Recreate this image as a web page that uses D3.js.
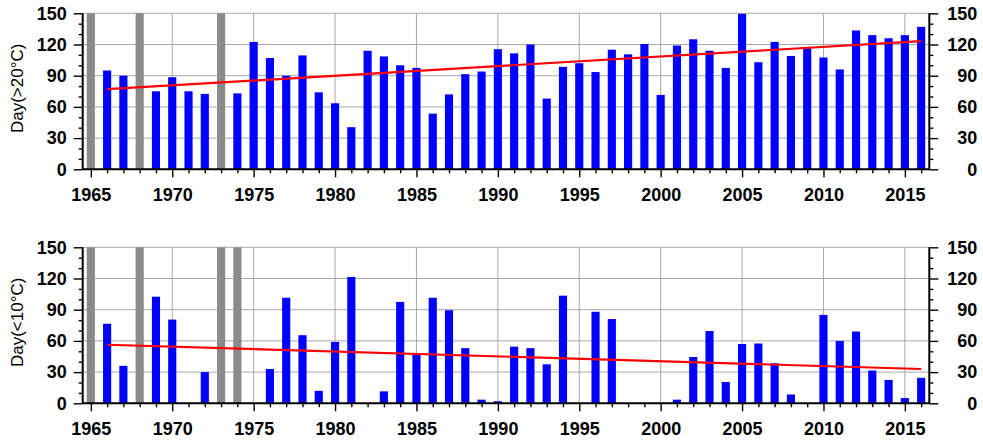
<!DOCTYPE html>
<html>
<head>
<meta charset="utf-8">
<script src="https://cdn.jsdelivr.net/npm/d3@7/dist/d3.min.js"></script>
<style>
  html, body { margin: 0; padding: 0; background: #fff; }
  svg { display: block; }
  text { font-family: "Liberation Sans", Arial, Helvetica, sans-serif; }
</style>
</head>
<body>
<svg id="chart" width="983" height="443"></svg>
<script>
// Years shown on both panels
const years = d3.range(1965, 2017);

// Years with missing records (drawn as full-height grey bars)
const missingHot = [1965, 1968, 1973];
const missingCold = [1965, 1968, 1973, 1974];

// Number of days with daily temperature above 20°C, 1965–2016 (null = missing)
const hotDays = [
  null, 95, 90, null, 75, 88.5, 75, 72.5, null, 73,
  122.5, 107, 90, 109.5, 74, 63.5, 40.5, 114, 108.5, 100,
  97.5, 53.5, 72, 91.5, 94, 115.5, 111.5, 120, 68, 98.5,
  102, 93.5, 115, 110.5, 120.5, 71.5, 119, 125, 114, 97.5,
  149.5, 103, 122.5, 109, 117, 107.5, 96, 133.5, 129, 126,
  129, 137
];

// Number of days with daily temperature below 10°C, 1965–2016 (null = missing)
const coldDays = [
  null, 76.5, 36, null, 102.5, 80.5, 0, 30, null, null,
  0, 33, 101.5, 65.5, 12, 59, 121.5, 0, 11.5, 97.5,
  47, 101.5, 89.5, 53, 3.5, 2, 54.5, 53, 37.5, 103.5,
  0, 88, 81, 0, 0, 0, 3.5, 44.5, 69.5, 20.5,
  57, 57.5, 38.5, 8.5, 0, 85, 60, 69, 31.5, 22.5,
  5, 24.5
];

// Linear trend end points [year, days]
const hotTrend = [[1966, 77], [2016, 123.3]];
const coldTrend = [[1966, 56.3], [2016, 33]];

// Axis ticks
const yTicks = [0, 30, 60, 90, 120, 150];
const yMinorTicks = d3.range(0, 151, 10);
const xTicks = [1965, 1970, 1975, 1980, 1985, 1990, 1995, 2000, 2005, 2010, 2015];

const svg = d3.select("#chart");

const x = d3.scaleLinear().domain([1964.5, 2016.5]).range([82.7, 929.3]);
const barW = (x(1) - x(0)) * 0.5;
const TICK_FONT = 18;

function drawPanel(top, bottom, values, missing, trend, title) {
  const y = d3.scaleLinear().domain([0, 150]).range([bottom, top]);
  const g = svg.append("g");

  // grid
  g.append("g").selectAll("line").data(yTicks.filter(d => d > 0)).join("line")
    .attr("x1", x.range()[0]).attr("x2", x.range()[1])
    .attr("y1", d => y(d)).attr("y2", d => y(d))
    .attr("stroke", "#a8a8a8").attr("stroke-width", 1);
  g.append("g").selectAll("line").data(xTicks).join("line")
    .attr("x1", d => x(d)).attr("x2", d => x(d))
    .attr("y1", y(0)).attr("y2", y(150))
    .attr("stroke", "#a8a8a8").attr("stroke-width", 1);

  // missing years
  g.append("g").selectAll("rect").data(missing).join("rect")
    .attr("x", d => x(d) - barW / 2).attr("width", barW)
    .attr("y", y(150)).attr("height", y(0) - y(150))
    .attr("fill", "#8a8a8a");

  // observed bars
  const obs = years.map((yr, i) => ({ yr, v: values[i] })).filter(d => d.v !== null && d.v > 0);
  g.append("g").selectAll("rect").data(obs).join("rect")
    .attr("x", d => x(d.yr) - barW / 2).attr("width", barW)
    .attr("y", d => y(d.v)).attr("height", d => y(0) - y(d.v))
    .attr("fill", "#0000ff");

  // trend line
  g.append("path").datum(trend)
    .attr("d", d3.line().x(d => x(d[0])).y(d => y(d[1])))
    .attr("fill", "none").attr("stroke", "#ff0000").attr("stroke-width", 2.2);

  // x axis: minor ticks every year, labelled every 5 years
  const xMinor = d3.axisBottom(x).tickValues(years.filter(d => d % 5 !== 0)).tickSize(4).tickFormat("");
  const xMajor = d3.axisBottom(x).tickValues(xTicks).tickSize(8).tickPadding(11).tickFormat(d3.format("d"));
  g.append("g").attr("transform", `translate(0,${bottom})`).call(xMinor);
  g.append("g").attr("transform", `translate(0,${bottom})`).call(xMajor);

  // y axes (left and right)
  const minor = yMinorTicks.filter(d => d % 30 !== 0);
  const yl = d3.axisLeft(y).tickValues(yTicks).tickSize(9).tickPadding(7).tickFormat(d3.format("d"));
  const ylm = d3.axisLeft(y).tickValues(minor).tickSize(4).tickFormat("");
  const yr = d3.axisRight(y).tickValues(yTicks).tickSize(9).tickPadding(39).tickFormat(d3.format("d"));
  const yrm = d3.axisRight(y).tickValues(minor).tickSize(4).tickFormat("");
  g.append("g").attr("transform", `translate(${x.range()[0]},0)`).call(yl);
  g.append("g").attr("transform", `translate(${x.range()[0]},0)`).call(ylm);
  const gyr = g.append("g").attr("transform", `translate(${x.range()[1]},0)`).call(yr);
  g.append("g").attr("transform", `translate(${x.range()[1]},0)`).call(yrm);
  gyr.selectAll(".tick text").attr("text-anchor", "end");

  g.selectAll(".tick line").attr("stroke", "#000").attr("stroke-width", 1.4);
  // axis spines; the top edge is left open
  g.selectAll(".domain").remove();
  const spine = [
    [x.range()[0], bottom, x.range()[1], bottom],
    [x.range()[0], top, x.range()[0], bottom],
    [x.range()[1], top, x.range()[1], bottom]
  ];
  g.append("g").selectAll("line").data(spine).join("line")
    .attr("x1", d => d[0]).attr("y1", d => d[1]).attr("x2", d => d[2]).attr("y2", d => d[3])
    .attr("stroke", "#000").attr("stroke-width", 2);

  g.selectAll(".tick text")
    .attr("font-family", "Liberation Sans, Arial, sans-serif")
    .attr("font-size", TICK_FONT).attr("font-weight", "bold").attr("fill", "#000");

  // axis title
  g.append("text")
    .attr("transform", `translate(23,${(top + bottom) / 2 - 3}) rotate(-90)`)
    .attr("text-anchor", "middle")
    .attr("font-size", 17).attr("fill", "#000")
    .text(title);
}

drawPanel(13.3, 169.3, hotDays, missingHot, hotTrend, "Day(>20°C)");
drawPanel(247.3, 403.3, coldDays, missingCold, coldTrend, "Day(<10°C)");
</script>
</body>
</html>
